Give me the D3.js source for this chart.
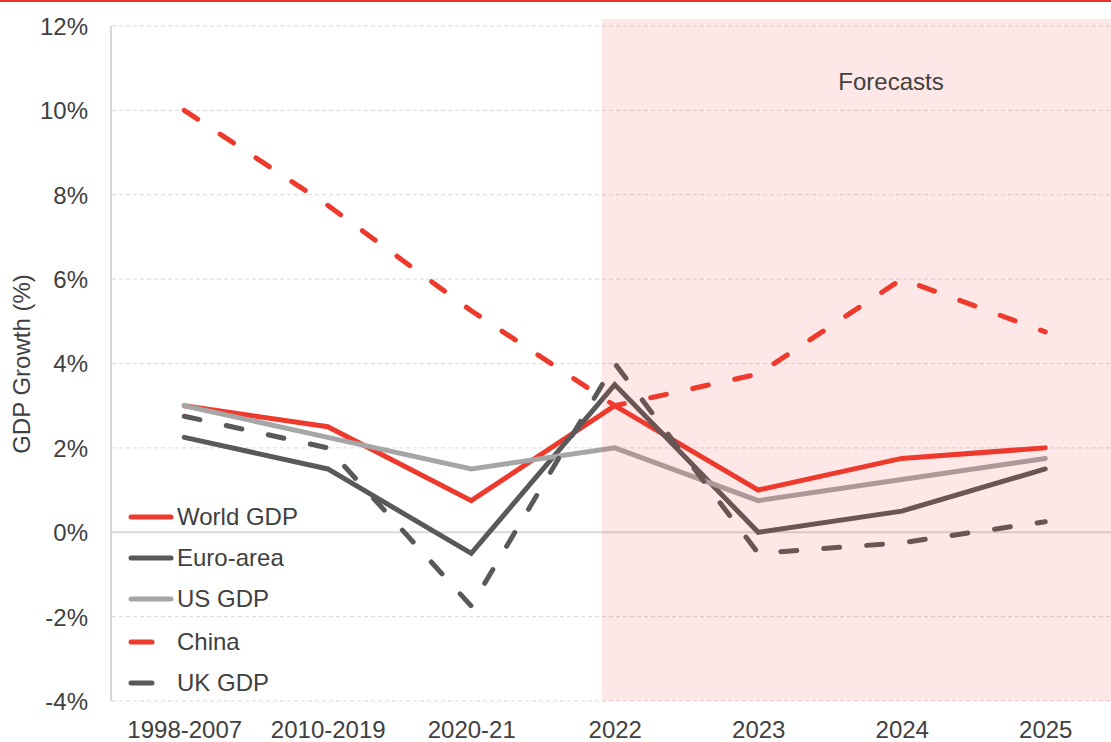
<!DOCTYPE html>
<html>
<head>
<meta charset="utf-8">
<script src="https://cdn.jsdelivr.net/npm/d3@7"></script>
<style>
  html, body { margin: 0; padding: 0; background: #fff; }
  svg { display: block; font-family: "Liberation Sans", Arial, sans-serif; }
</style>
</head>
<body>
<svg id="chart" width="1111" height="742"></svg>
<script>
const categories = ["1998-2007", "2010-2019", "2020-21", "2022", "2023", "2024", "2025"];
const worldGDP = [3.0, 2.5, 0.75, 3.0, 1.0, 1.75, 2.0];
const euroArea = [2.25, 1.5, -0.5, 3.5, 0.0, 0.5, 1.5];
const usGDP    = [3.0, 2.25, 1.5, 2.0, 0.75, 1.25, 1.75];
const china    = [10.0, 7.75, 5.25, 3.0, 3.75, 6.0, 4.75];
const ukGDP    = [2.75, 2.0, -1.75, 4.0, -0.5, -0.25, 0.25];
const yTicks   = [-4, -2, 0, 2, 4, 6, 8, 10, 12];
const forecastStart = "2022";

const series = [
  { name: "World GDP", values: worldGDP, color: "#ee3a2c", dashed: false },
  { name: "Euro-area", values: euroArea, color: "#595959", dashed: false },
  { name: "US GDP",    values: usGDP,    color: "#a6a6a6", dashed: false },
  { name: "China",     values: china,    color: "#ee3a2c", dashed: true },
  { name: "UK GDP",    values: ukGDP,    color: "#595959", dashed: true }
];

const svg = d3.select("#chart");
const W = 1111, H = 742;
const plotLeft = 112, plotTop = 26, plotBottom = 701;

const x = d3.scalePoint().domain(categories).range([112.5, 1117]).padding(0.5);
const y = d3.scaleLinear().domain([-4, 12]).range([plotBottom, plotTop]);

// top red rule
svg.append("rect").attr("x", 0).attr("y", 0).attr("width", W).attr("height", 2).attr("fill", "#e8302a");

// gridlines
svg.append("g").selectAll("line").data(yTicks.filter(d => d !== 0)).join("line")
  .attr("x1", plotLeft).attr("x2", W)
  .attr("y1", d => y(d)).attr("y2", d => y(d))
  .attr("stroke", "#d9d9d9").attr("stroke-width", 1).attr("stroke-dasharray", "4,3");
svg.append("line").attr("x1", plotLeft).attr("x2", W).attr("y1", y(0)).attr("y2", y(0))
  .attr("stroke", "#d9d9d9").attr("stroke-width", 2);
// left axis line
svg.append("line").attr("x1", plotLeft - 1).attr("x2", plotLeft - 1).attr("y1", plotTop).attr("y2", plotBottom)
  .attr("stroke", "#d9d9d9").attr("stroke-width", 2);

// y axis labels
const yAxis = d3.axisLeft(y).tickValues(yTicks).tickSize(0).tickPadding(0).tickFormat(d => d + "%");
const yg = svg.append("g").attr("transform", "translate(88,0)").call(yAxis);
yg.select(".domain").remove();
yg.selectAll("text").attr("font-size", 24).attr("fill", "#404040")
  .attr("font-family", "'Liberation Sans', Arial, sans-serif").attr("dy", "0.35em");

// x axis labels
const xAxis = d3.axisBottom(x).tickSize(0).tickPadding(0);
const xg = svg.append("g").attr("transform", "translate(0,720)").call(xAxis);
xg.select(".domain").remove();
xg.selectAll("text").attr("font-size", 24).attr("fill", "#404040")
  .attr("font-family", "'Liberation Sans', Arial, sans-serif").attr("dy", "0.75em");

// y title
svg.append("text").attr("transform", "translate(30,364) rotate(-90)")
  .attr("text-anchor", "middle").attr("font-size", 24).attr("fill", "#404040")
  .text("GDP Growth (%)");

// lines
const line = d3.line().x((d, i) => x(categories[i])).y(d => y(d));
svg.append("g").selectAll("path").data(series).join("path")
  .attr("d", d => line(d.values))
  .attr("fill", "none")
  .attr("stroke", d => d.color)
  .attr("stroke-width", 5)
  .attr("stroke-linejoin", "miter")
  .attr("stroke-linecap", "round")
  .attr("stroke-dasharray", d => d.dashed ? "16,27" : null);

// forecast shading on top
const shadeX = x(forecastStart) - 13;
svg.append("rect").attr("x", shadeX).attr("y", 19)
  .attr("width", W - shadeX).attr("height", plotBottom - 19)
  .attr("fill", "rgb(240,60,60)").attr("fill-opacity", 0.12);
svg.append("text").attr("x", (x("2024") + x("2023")) / 2 + 61).attr("y", 90)
  .attr("text-anchor", "middle").attr("font-size", 24).attr("fill", "#404040")
  .text("Forecasts");

// legend
const legY = [517, 558, 599, 642, 683];
const lg = svg.append("g").selectAll("g").data(series).join("g")
  .attr("transform", (d, i) => `translate(0,${legY[i]})`);
lg.append("line").attr("x1", 131).attr("x2", d => d.dashed ? 152 : 171)
  .attr("y1", 0).attr("y2", 0)
  .attr("stroke", d => d.color).attr("stroke-width", 5).attr("stroke-linecap", "round");
lg.append("text").attr("x", 177).attr("y", 0).attr("dy", "0.35em")
  .attr("font-size", 24).attr("fill", "#404040").text(d => d.name);
</script>
</body>
</html>
